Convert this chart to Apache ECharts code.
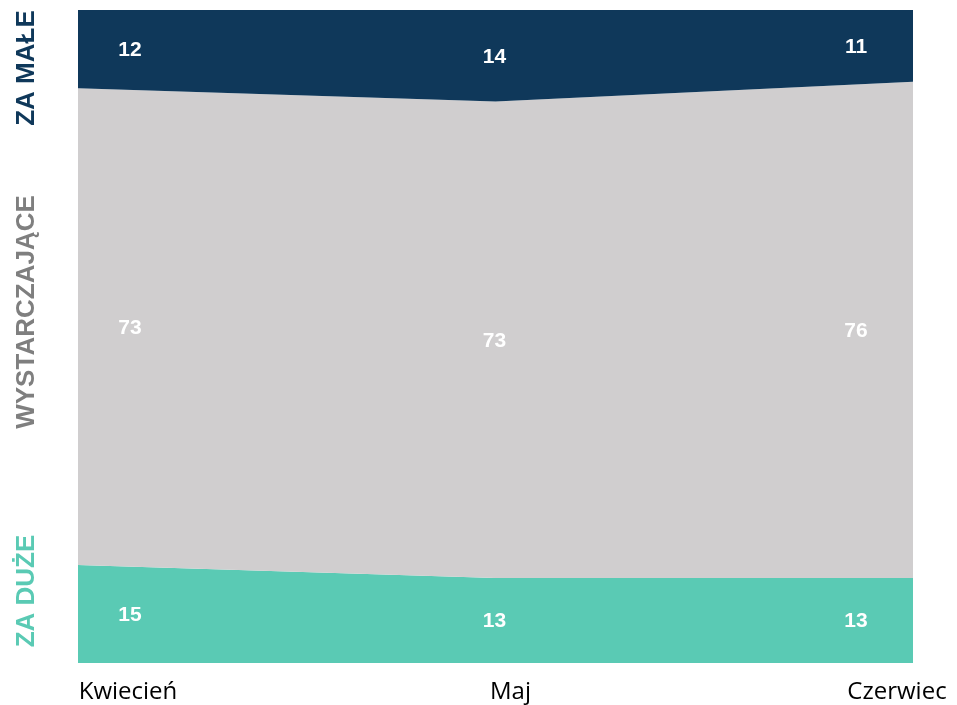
<!DOCTYPE html>
<html>
<head>
<meta charset="utf-8">
<script src="https://cdn.jsdelivr.net/npm/echarts@6/dist/echarts.min.js"></script>
<style>html,body{margin:0;padding:0;background:#fff}#c{width:957px;height:705px}</style>
</head>
<body>
<div id="c"></div>
<script>
const categories = ['Kwiecień', 'Maj', 'Czerwiec'];
const zaDuze = [15, 13, 13];
const wystarczajace = [73, 73, 76];
const zaMale = [12, 14, 11];
const seriesNames = ['ZA DUŻE', 'WYSTARCZAJĄCE', 'ZA MAŁE'];

const colors = ['#5acab4', '#d0cecf', '#0f385a'];
const sideColors = ['#5acab4', '#7f7f7f', '#0f385a'];
const labelOffsetX = [52, -1, -57];

const layers = [zaDuze, wystarczajace, zaMale];
const chart = echarts.init(document.getElementById('c'));

const areaSeries = layers.map((vals, i) => ({
  name: seriesNames[i],
  type: 'line',
  stack: 'total',
  data: vals,
  symbol: 'none',
  lineStyle: { width: 0 },
  areaStyle: { color: colors[i], opacity: 1 },
  silent: true,
  z: 2
}));

const labelSeries = layers.map((vals, i) => ({
  type: 'scatter',
  symbolSize: 0,
  silent: true,
  z: 5,
  itemStyle: { opacity: 1 },
  data: vals.map((v, j) => {
    let base = 0;
    for (let k = 0; k < i; k++) base += layers[k][j];
    return {
      value: [categories[j], base + v / 2],
      label: {
        show: true,
        formatter: String(v),
        position: 'inside',
        offset: [labelOffsetX[j], 1],
        color: '#ffffff',
        opacity: 1,
        textBorderWidth: 0,
        fontFamily: 'Liberation Sans, Arial, sans-serif',
        fontWeight: 'bold',
        fontSize: 21
      }
    };
  })
}));

const axisFont = { fontFamily: 'Open Sans, sans-serif', fontSize: 24, color: '#000' };

chart.setOption({
  animation: false,
  grid: { left: 78, right: 44, top: 10, bottom: 42 },
  xAxis: {
    type: 'category',
    data: categories,
    boundaryGap: false,
    axisLine: { show: false },
    axisTick: { show: false },
    splitLine: { show: false },
    axisLabel: {
      margin: 17,
      color: '#000',
      fontFamily: 'Open Sans, sans-serif',
      fontSize: 24,
      formatter: (v, idx) => ['{a|', '{b|', '{c|'][idx] + v + '}',
      rich: {
        a: Object.assign({ padding: [0, 0, 0, 100] }, axisFont),
        b: Object.assign({ padding: [0, 0, 0, 30] }, axisFont),
        c: Object.assign({ padding: [0, 32, 0, 0] }, axisFont)
      }
    }
  },
  yAxis: {
    type: 'value',
    min: 0,
    max: 100,
    show: false
  },
  graphic: [
    { type: 'text', x: 27, y: 68, rotation: Math.PI / 2,
      style: { text: seriesNames[2], fill: sideColors[2], font: 'bold 26px "Liberation Sans", Arial, sans-serif', textAlign: 'center', textVerticalAlign: 'middle' } },
    { type: 'text', x: 27, y: 312, rotation: Math.PI / 2,
      style: { text: seriesNames[1], fill: sideColors[1], font: 'bold 26px "Liberation Sans", Arial, sans-serif', textAlign: 'center', textVerticalAlign: 'middle' } },
    { type: 'text', x: 27, y: 591, rotation: Math.PI / 2,
      style: { text: seriesNames[0], fill: sideColors[0], font: 'bold 26px "Liberation Sans", Arial, sans-serif', textAlign: 'center', textVerticalAlign: 'middle' } }
  ],
  series: areaSeries.concat(labelSeries)
});
</script>
</body>
</html>
